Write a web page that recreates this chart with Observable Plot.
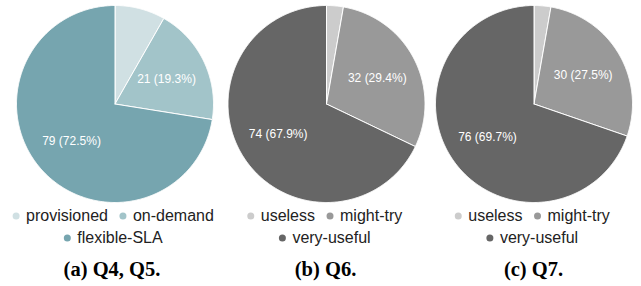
<!DOCTYPE html>
<html>
<head>
<meta charset="utf-8">
<script src="https://cdn.jsdelivr.net/npm/d3@7"></script>
<script src="https://cdn.jsdelivr.net/npm/@observablehq/plot@0.6"></script>
<style>
  html, body { margin: 0; padding: 0; background: #fff; }
  #chart svg { display: block; }
</style>
</head>
<body>
<div id="chart"></div>
<script>
// ---- data ----
const categoriesA = ["provisioned", "on-demand", "flexible-SLA"];
const valuesA = [9, 21, 79];
const categoriesB = ["useless", "might-try", "very-useful"];
const valuesB = [3, 32, 74];
const categoriesC = ["useless", "might-try", "very-useful"];
const valuesC = [3, 30, 76];
const captions = ["(a) Q4, Q5.", "(b) Q6.", "(c) Q7."];
const colorsA = ["#d0e0e3", "#a2c4c9", "#76a5af"];
const colorsGray = ["#cccccc", "#999999", "#666666"];

// ---- layout ----
const W = 641, H = 286;
const centersX = [114.5, 326, 533.5];
const captionX = [111.5, 325, 533];
const centerY = 103.5;
const R = 98.5;
const labelFrac = 0.58;
const legendRowY = [215.5, 237.5];
const captionY = 269;
const legendFont = "16px 'Liberation Sans', Arial, sans-serif";

const panels = [
  {cats: categoriesA, vals: valuesA},
  {cats: categoriesB, vals: valuesB},
  {cats: categoriesC, vals: valuesC}
];

const ctx = document.createElement("canvas").getContext("2d");
ctx.font = legendFont;
const textW = s => ctx.measureText(s).width;

const slicePts = [], labels = [], legend = [], caps = [];
panels.forEach((p, pi) => {
  const cx = centersX[pi];
  const total = d3.sum(p.vals);
  const arcs = d3.pie().sort(null).value(d => d)(p.vals);
  arcs.forEach((a, i) => {
    const key = pi + "-" + i;
    const cat = p.cats[i];
    slicePts.push({key, cat, x: cx, y: centerY});
    const n = Math.max(2, Math.ceil((a.endAngle - a.startAngle) / (Math.PI / 360)));
    for (let k = 0; k <= n; k++) {
      const t = a.startAngle + (a.endAngle - a.startAngle) * k / n;
      slicePts.push({key, cat, x: cx + R * Math.sin(t), y: centerY - R * Math.cos(t)});
    }
    slicePts.push({key, cat, x: cx, y: centerY});
    const share = p.vals[i] / total;
    if (share > 0.15) {
      const m = (a.startAngle + a.endAngle) / 2;
      labels.push({
        x: cx + labelFrac * R * Math.sin(m),
        y: centerY - labelFrac * R * Math.cos(m),
        text: `${p.vals[i]} (${(share * 100).toFixed(1)}%)`
      });
    }
  });
  // legend rows: first two items on row 1, third on row 2
  const rows = [[0, 1], [2]];
  rows.forEach((row, ri) => {
    const widths = row.map(i => 10 + textW(p.cats[i]));
    const total = d3.sum(widths) + 15 * (row.length - 1);
    let x = cx - total / 2;
    row.forEach((i, j) => {
      legend.push({cat: p.cats[i], dx: x, tx: x + 10, y: legendRowY[ri]});
      x += widths[j] + 15;
    });
  });
  caps.push({x: captionX[pi], y: captionY, text: captions[pi]});
});

const chart = Plot.plot({
  width: W,
  height: H,
  margin: 0,
  x: {type: "identity", axis: null},
  y: {type: "identity", axis: null},
  color: {domain: [...categoriesA, ...categoriesB], range: [...colorsA, ...colorsGray]},
  style: {background: "#fff"},
  marks: [
    Plot.line(slicePts, {x: "x", y: "y", z: "key", fill: "cat", stroke: "#ffffff", strokeWidth: 1, strokeLinejoin: "round", curve: "linear"}),
    Plot.text(labels, {x: "x", y: "y", text: "text", fill: "#ffffff", fontSize: 12, fontFamily: "'Liberation Sans', Arial, sans-serif"}),
    Plot.dot(legend, {x: "dx", y: "y", fill: "cat", r: 3.5, stroke: null}),
    Plot.text(legend, {x: "tx", y: "y", text: "cat", textAnchor: "start", fill: "#222222", fontSize: 16, fontFamily: "'Liberation Sans', Arial, sans-serif"}),
    Plot.text(caps, {x: "x", y: "y", text: "text", fill: "#000000", fontSize: 20.5, fontWeight: "bold", fontFamily: "'Liberation Serif', 'Times New Roman', serif"})
  ]
});
document.getElementById("chart").appendChild(chart);
</script>
</body>
</html>
